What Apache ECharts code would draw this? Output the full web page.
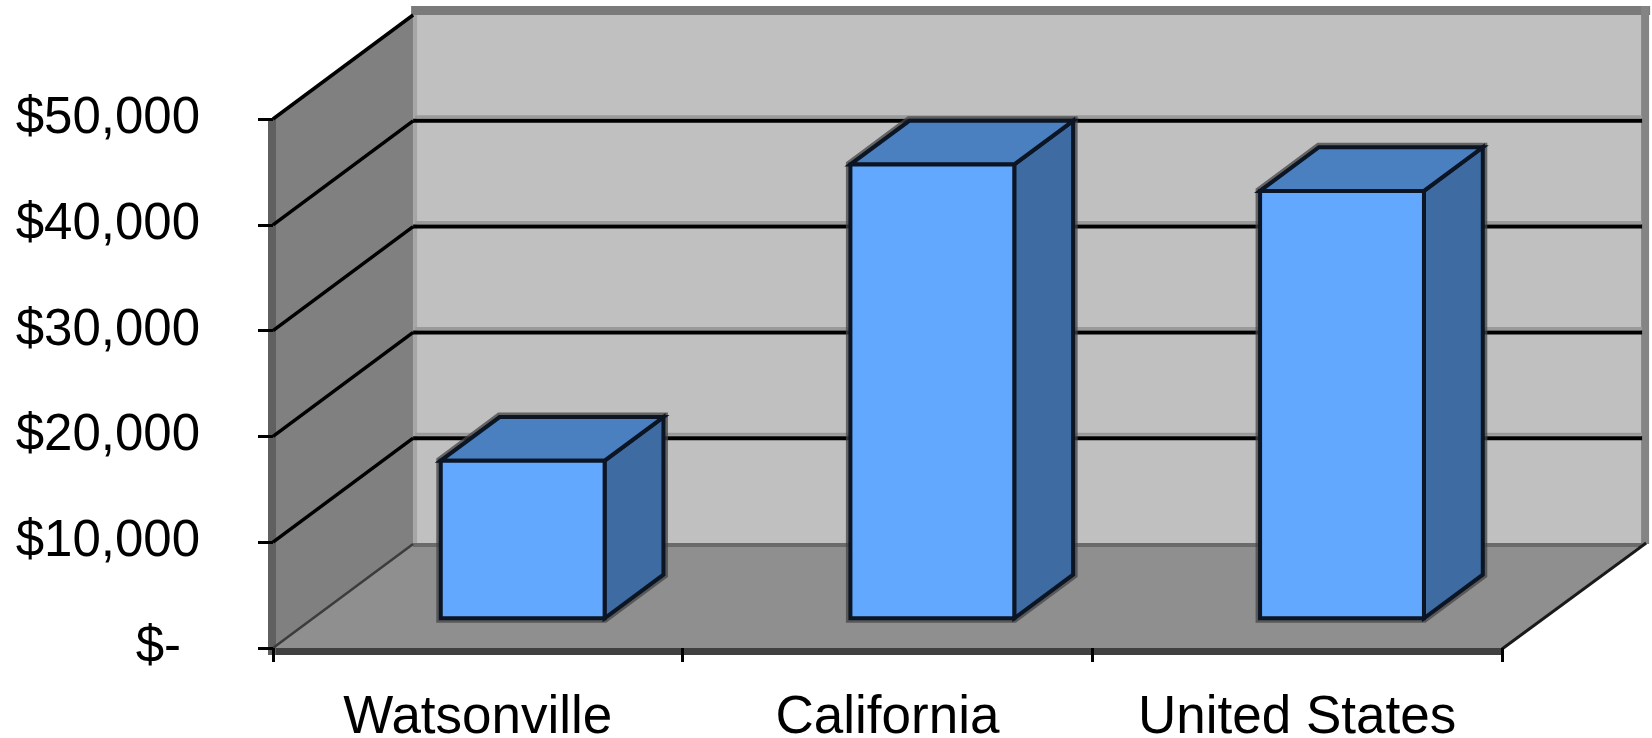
<!DOCTYPE html>
<html>
<head>
<meta charset="utf-8">
<script src="https://cdn.jsdelivr.net/npm/echarts@6/dist/echarts.min.js"></script>
<style>
  html, body { margin: 0; padding: 0; background: #ffffff; }
  #chart { width: 1652px; height: 738px; }
</style>
</head>
<body>
<div id="chart"></div>
<script>
// Income by place
const categories = ['Watsonville', 'California', 'United States'];
const incomes = [14900, 42900, 40400];

// Value axis range and step
const yMin = 0;
const yMax = 50000;
const yStep = 10000;

// 3D look: depth vector as fractions of one category band (x) and one value step (y)
const DEPTH_X = 0.342;
const DEPTH_Y = 0.983;
// Columns sit between these depth fractions and take this share of a band
const BAR_F0 = 0.285;
const BAR_F1 = 0.705;
const BAR_W = 0.40;
const BAR_SHIFT = 0.012;

const FONT = '"Liberation Sans", Arial, sans-serif';

function depthVec(api) {
  const s = api.size([1, yStep]);
  return { bw: s[0], dx: DEPTH_X * s[0], dy: -DEPTH_Y * s[1] };
}

// Walls, floor and gridlines
function renderFrame(params, api) {
  const d = depthVec(api);
  const x0 = api.coord([0, yMin])[0] - d.bw / 2;
  const x1 = api.coord([categories.length - 1, yMin])[0] + d.bw / 2;
  const yB = api.coord([0, yMin])[1];
  const yT = api.coord([0, yMax])[1];
  const dx = d.dx, dy = d.dy;
  const kids = [];

  // left wall
  kids.push({ type: 'polygon', shape: { points: [[x0, yT], [x0, yB], [x0 + dx, yB + dy], [x0 + dx, yT + dy]] },
    style: { fill: '#808080' } });
  // back wall
  kids.push({ type: 'rect', shape: { x: x0 + dx, y: yT + dy, width: x1 - x0, height: yB - yT },
    style: { fill: '#c0c0c0' } });
  // back wall trim: top, right and left edges
  kids.push({ type: 'rect', shape: { x: x0 + dx - 2, y: yT + dy - 9, width: x1 - x0 + 10, height: 9 },
    style: { fill: '#7a7a7a' } });
  kids.push({ type: 'rect', shape: { x: x1 + dx - 1, y: yT + dy - 9, width: 8, height: yB - yT + 9 },
    style: { fill: '#848484' } });
  kids.push({ type: 'rect', shape: { x: x0 + dx, y: yT + dy, width: 4, height: yB - yT },
    style: { fill: '#a6a6a6' } });
  // floor
  kids.push({ type: 'polygon', shape: { points: [[x0, yB], [x1, yB], [x1 + dx, yB + dy], [x0 + dx, yB + dy]] },
    style: { fill: '#8f8f8f' } });
  // back edge of the floor
  kids.push({ type: 'line', shape: { x1: x0 + dx, y1: yB + dy + 1, x2: x1 + dx, y2: yB + dy + 1 },
    style: { stroke: '#6a6a6a', lineWidth: 4 } });
  // front edge of the floor
  kids.push({ type: 'rect', shape: { x: x0, y: yB, width: x1 - x0, height: 7 },
    style: { fill: '#404040' } });
  // right slanted edge of the floor
  kids.push({ type: 'line', shape: { x1: x1, y1: yB + 1, x2: x1 + dx + 4, y2: yB + dy - 1 },
    style: { stroke: '#1a1a1a', lineWidth: 3 } });
  // left edge of the left wall
  kids.push({ type: 'rect', shape: { x: x0 - 5, y: yT, width: 8, height: yB - yT + 7 },
    style: { fill: '#606060' } });

  // gridlines on the back wall and the left wall
  for (let v = yMin; v <= yMax; v += yStep) {
    const y = api.coord([0, v])[1];
    if (v > yMin && v < yMax) {
      kids.push({ type: 'line', shape: { x1: x0 + dx + 2, y1: y + dy - 4, x2: x1 + dx, y2: y + dy - 4 },
        style: { stroke: '#9a9a9a', lineWidth: 3 } });
      kids.push({ type: 'line', shape: { x1: x0 + dx, y1: y + dy, x2: x1 + dx, y2: y + dy },
        style: { stroke: '#000000', lineWidth: 4 } });
    }
    kids.push({ type: 'line', shape: { x1: x0, y1: y, x2: x0 + dx, y2: y + dy },
      style: { stroke: v === yMin ? '#3c3c3c' : '#000000', lineWidth: v === yMin ? 2.5 : 3.5 } });
  }
  return { type: 'group', children: kids };
}

// One 3D column
function renderColumn(params, api) {
  const d = depthVec(api);
  const i = api.value(0);
  const top = api.coord([i, api.value(1)]);
  const base = api.coord([i, yMin]);
  const half = BAR_W * d.bw / 2;
  const ox = BAR_F0 * d.dx + BAR_SHIFT * d.bw, oy = BAR_F0 * d.dy;
  const kx = (BAR_F1 - BAR_F0) * d.dx, ky = (BAR_F1 - BAR_F0) * d.dy;
  const xl = top[0] - half + ox, xr = top[0] + half + ox;
  const yt = top[1] + oy, yb = base[1] + oy;
  const edge = { stroke: '#0b1524', lineWidth: 4, lineJoin: 'miter' };
  const outline = [[xl, yb], [xl, yt], [xl + kx, yt + ky], [xr + kx, yt + ky], [xr + kx, yb + ky], [xr, yb]];
  return {
    type: 'group',
    children: [
      { type: 'polygon', shape: { points: outline }, style: { fill: 'none', stroke: 'rgba(70,70,70,0.75)', lineWidth: 9 } },
      { type: 'polygon', shape: { points: [[xr, yt], [xr + kx, yt + ky], [xr + kx, yb + ky], [xr, yb]] },
        style: Object.assign({ fill: '#3e6ba2' }, edge) },
      { type: 'polygon', shape: { points: [[xl, yt], [xl + kx, yt + ky], [xr + kx, yt + ky], [xr, yt]] },
        style: Object.assign({ fill: '#4a7fc0' }, edge) },
      { type: 'rect', shape: { x: xl, y: yt, width: xr - xl, height: yb - yt },
        style: Object.assign({ fill: '#62a8ff' }, edge) }
    ]
  };
}

const chart = echarts.init(document.getElementById('chart'), null, { renderer: 'canvas' });
chart.setOption({
  animation: false,
  backgroundColor: '#ffffff',
  grid: { left: 273, right: 150, top: 119, bottom: 90, containLabel: false, outerBoundsMode: 'none' },
  xAxis: {
    type: 'category',
    data: categories,
    boundaryGap: true,
    z: 5,
    axisLine: { show: false },
    axisTick: { show: true, length: 14, interval: 0, lineStyle: { color: '#000', width: 3 } },
    axisLabel: { color: '#000', fontSize: 53, fontFamily: FONT, margin: 44, interval: 0 },
    splitLine: { show: false }
  },
  yAxis: {
    type: 'value',
    min: yMin,
    max: yMax,
    interval: yStep,
    z: 5,
    axisLine: { show: false },
    axisTick: { show: true, length: 15, lineStyle: { color: '#000', width: 3 } },
    splitLine: { show: false },
    axisLabel: {
      color: '#000', fontSize: 51, fontFamily: FONT, margin: 73,
      formatter: function (v) {
        return v === 0 ? '{z|$-}' : '$' + v.toLocaleString('en-US');
      },
      rich: { z: { color: '#000', fontSize: 51, fontFamily: FONT, padding: [0, 19, 0, 0] } }
    }
  },
  series: [
    {
      type: 'custom',
      z: 1,
      silent: true,
      renderItem: renderFrame,
      data: [[0, 0]]
    },
    {
      type: 'custom',
      z: 2,
      renderItem: renderColumn,
      encode: { x: 0, y: 1 },
      data: incomes.map(function (v, i) { return [i, v]; })
    }
  ]
});
</script>
</body>
</html>
